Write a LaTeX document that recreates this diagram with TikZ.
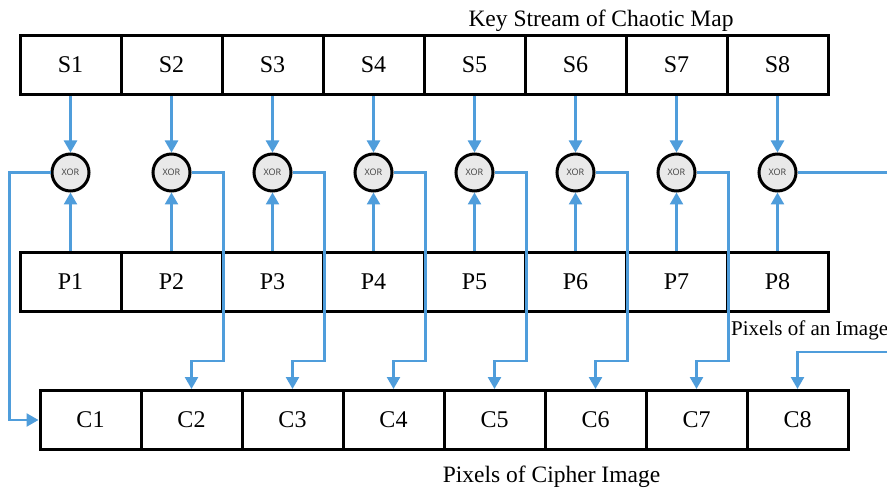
\documentclass[tikz,border=0pt]{standalone}
\usepackage{fontspec}
\setmainfont{Liberation Serif}
\setsansfont{Open Sans}
\usetikzlibrary{arrows.meta, positioning, calc}
\definecolor{flowblue}{RGB}{79, 157, 219}
\definecolor{xorgray}{RGB}{233, 233, 233}
\definecolor{xortext}{RGB}{60, 60, 60}

\begin{document}
\begin{tikzpicture}[x=1pt, y=-1pt,
    cell/.style={rectangle, draw=black, line width=3pt, minimum width=101pt,
                 minimum height=59pt, inner sep=0pt, font=\fontsize{24}{28}\selectfont},
    gate/.style={circle, draw=black, line width=3pt, fill=xorgray, minimum size=37pt,
                 inner sep=0pt, text=xortext, font=\sffamily\fontsize{9}{10}\selectfont},
    fl/.style={-{Triangle[length=12pt, width=13pt]}, line width=2.5pt, flowblue},
    ln/.style={line width=2.5pt, flowblue},
    lbl/.style={anchor=base, inner sep=0pt, font=\fontsize{23.5}{28}\selectfont}
]
\useasboundingbox (0,0) rectangle (887,489);

\node[cell] (s1) at (70.5, 65) {S1};
\node[cell] (s2) at (171.5,65) {S2};
\node[cell] (s3) at (272.5,65) {S3};
\node[cell] (s4) at (373.5,65) {S4};
\node[cell] (s5) at (474.5,65) {S5};
\node[cell] (s6) at (575.5,65) {S6};
\node[cell] (s7) at (676.5,65) {S7};
\node[cell] (s8) at (777.5,65) {S8};

\node[cell] (p1) at (70.5, 282) {P1};
\node[cell] (p2) at (171.5,282) {P2};
\node[cell] (p3) at (272.5,282) {P3};
\node[cell] (p4) at (373.5,282) {P4};
\node[cell] (p5) at (474.5,282) {P5};
\node[cell] (p6) at (575.5,282) {P6};
\node[cell] (p7) at (676.5,282) {P7};
\node[cell] (p8) at (777.5,282) {P8};

\node[cell] (c1) at (90.5, 420) {C1};
\node[cell] (c2) at (191.5,420) {C2};
\node[cell] (c3) at (292.5,420) {C3};
\node[cell] (c4) at (393.5,420) {C4};
\node[cell] (c5) at (494.5,420) {C5};
\node[cell] (c6) at (595.5,420) {C6};
\node[cell] (c7) at (696.5,420) {C7};
\node[cell] (c8) at (797.5,420) {C8};

\node[gate] (x1) at (70.5, 172.5) {XOR};
\node[gate] (x2) at (171.5,172.5) {XOR};
\node[gate] (x3) at (272.5,172.5) {XOR};
\node[gate] (x4) at (373.5,172.5) {XOR};
\node[gate] (x5) at (474.5,172.5) {XOR};
\node[gate] (x6) at (575.5,172.5) {XOR};
\node[gate] (x7) at (676.5,172.5) {XOR};
\node[gate] (x8) at (777.5,172.5) {XOR};

\node[lbl] (title)  at (601, 27)  {Key Stream of Chaotic Map};
\node[lbl, anchor=base west, font=\fontsize{21}{25}\selectfont] (plain) at (731, 335) {Pixels of an Image};
\node[lbl] (cipher) at (551.5, 482) {Pixels of Cipher Image};

\coordinate (rt) at (887, 172.5);
\coordinate (rb) at (887, 352);

% key stream and pixels into the gates
\draw[fl] (s1) -- (x1);  \draw[fl] (p1) -- (x1);
\draw[fl] (s2) -- (x2);  \draw[fl] (p2) -- (x2);
\draw[fl] (s3) -- (x3);  \draw[fl] (p3) -- (x3);
\draw[fl] (s4) -- (x4);  \draw[fl] (p4) -- (x4);
\draw[fl] (s5) -- (x5);  \draw[fl] (p5) -- (x5);
\draw[fl] (s6) -- (x6);  \draw[fl] (p6) -- (x6);
\draw[fl] (s7) -- (x7);  \draw[fl] (p7) -- (x7);
\draw[fl] (s8) -- (x8);  \draw[fl] (p8) -- (x8);

% gate outputs to cipher pixels
\draw[fl] (x1.west) -| ([xshift=-29pt]c1.west) -- (c1.west);
\draw[fl] (x2.east) -| ([yshift=-48pt]p2.south east) -| (c2.north);
\draw[fl] (x3.east) -| ([yshift=-48pt]p3.south east) -| (c3.north);
\draw[fl] (x4.east) -| ([yshift=-48pt]p4.south east) -| (c4.north);
\draw[fl] (x5.east) -| ([yshift=-48pt]p5.south east) -| (c5.north);
\draw[fl] (x6.east) -| ([yshift=-48pt]p6.south east) -| (c6.north);
\draw[fl] (x7.east) -| ([yshift=-48pt]p7.south east) -| (c7.north);
\draw[ln] (x8.east) -- (rt);
\draw[fl] (rb) -| (c8.north);
\end{tikzpicture}
\end{document}
